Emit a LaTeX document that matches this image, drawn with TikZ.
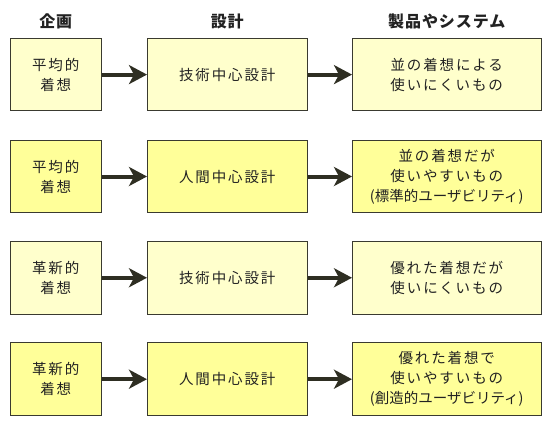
\documentclass[tikz,border=0pt]{standalone}
\usepackage{fontspec}
\setmainfont{Noto Sans CJK JP}
\newfontfamily\bodycjk{Noto Sans CJK JP}[LetterSpace=13]
\newfontfamily\tightcjk{Noto Sans CJK JP}
\newfontfamily\headcjk{Noto Sans CJK JP}[LetterSpace=6]
\usetikzlibrary{arrows.meta}
\definecolor{paleY}{HTML}{FFFFCC}
\definecolor{brightY}{HTML}{FFFF99}
\definecolor{edgeC}{HTML}{3A3A30}
\definecolor{arrowC}{HTML}{2E2E22}
\definecolor{txtC}{HTML}{222222}
\tikzset{
  box/.style={draw=edgeC, line width=1pt, minimum height=72.5pt, inner sep=0pt,
    align=center, text=txtC, font=\bodycjk\fontsize{14.5}{20}\selectfont},
  c1/.style={box, minimum width=90.5pt},
  c2/.style={box, minimum width=159.5pt},
  c3/.style={box, minimum width=188.5pt},
  head/.style={text=txtC, font=\headcjk\bfseries\fontsize{16}{18}\selectfont},
  link/.style={draw=arrowC, line width=4pt, -{Stealth[length=18pt,width=19pt,inset=5pt]}}
}
\begin{document}
\begin{tikzpicture}[x=1pt,y=-1pt]
\useasboundingbox (0,0) rectangle (560,429);
\node[head] (h1) at (55.75,21) {企画};
\node[head] (h2) at (227.25,21) {設計};
\node[head] (h3) at (446.75,21) {製品やシステム};

\node[c1, fill=paleY] (a1) at (55.75,74.6) {平均的\\着想};
\node[c2, fill=paleY] (b1) at (227.25,74.6) {技術中心設計};
\node[c3, fill=paleY] (d1) at (446.75,74.6) {並の着想による\\使いにくいもの};

\node[c1, fill=brightY] (a2) at (55.75,176.5) {平均的\\着想};
\node[c2, fill=brightY] (b2) at (227.25,176.5) {人間中心設計};
\node[c3, fill=brightY] (d2) at (446.75,176.5) {並の着想だが\\使いやすいもの\\{\tightcjk (標準的ユーザビリティ)}};

\node[c1, fill=paleY] (a3) at (55.75,277.75) {革新的\\着想};
\node[c2, fill=paleY] (b3) at (227.25,277.75) {技術中心設計};
\node[c3, fill=paleY] (d3) at (446.75,277.75) {優れた着想だが\\使いにくいもの};

\node[c1, fill=brightY] (a4) at (55.75,379.2) {革新的\\着想};
\node[c2, fill=brightY] (b4) at (227.25,379.2) {人間中心設計};
\node[c3, fill=brightY] (d4) at (446.75,379.2) {優れた着想で\\使いやすいもの\\{\tightcjk (創造的ユーザビリティ)}};

\foreach \r in {1,2,3,4}{
  \draw[link] (a\r.east) -- (b\r.west);
  \draw[link] (b\r.east) -- (d\r.west);
}
\end{tikzpicture}
\end{document}
